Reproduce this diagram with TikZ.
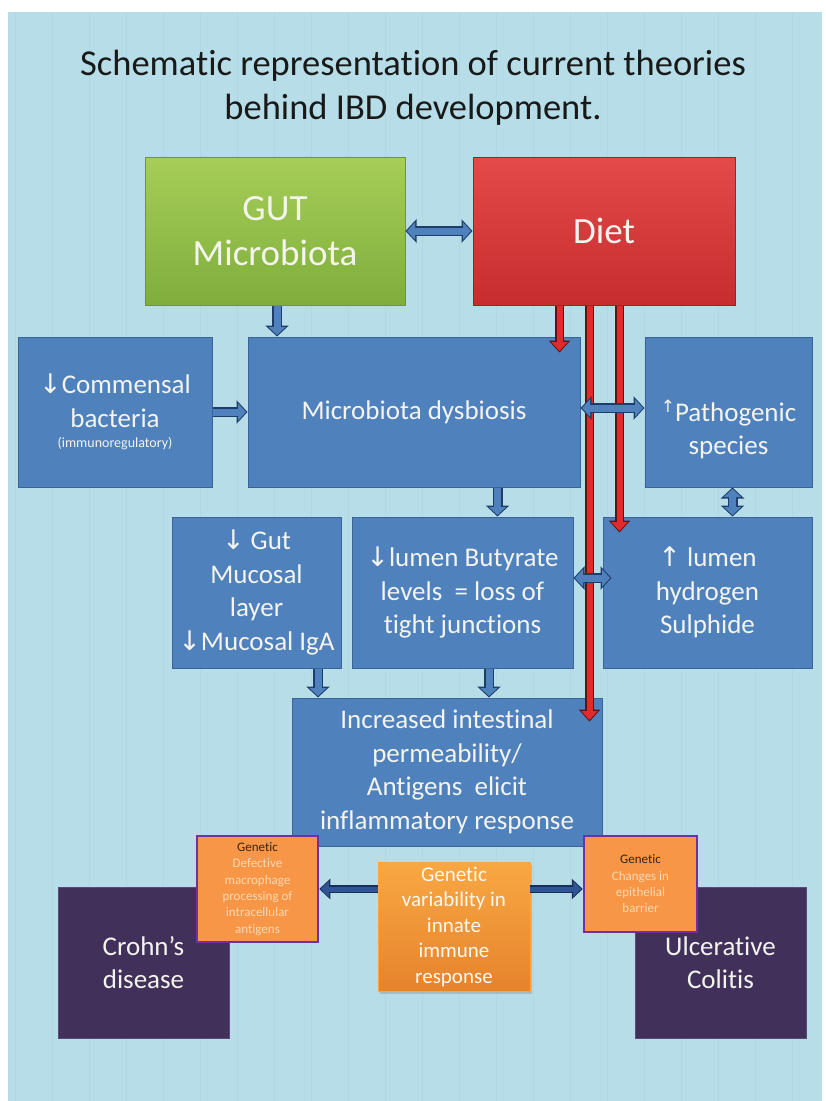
\documentclass[tikz,border=0pt]{standalone}
\usepackage{fontspec}
\setmainfont{Carlito}[Ligatures={NoCommon}]
\newfontfamily\arrowfont{DejaVu Sans}
\usetikzlibrary{arrows.meta,shadows,calc}

\definecolor{bgblue}{HTML}{B7DEE8}
\definecolor{stripe}{HTML}{AFD8E3}
\definecolor{boxblue}{HTML}{4F81BD}
\definecolor{boxline}{HTML}{3A6498}
\definecolor{boxtext}{HTML}{F4F4EE}
\definecolor{arrfill}{HTML}{4F81BD}
\definecolor{arrline}{HTML}{1F3D6B}
\definecolor{redfill}{HTML}{E02A2C}
\definecolor{redline}{HTML}{5E1214}
\definecolor{navyfill}{HTML}{2F5597}
\definecolor{navyline}{HTML}{1A2F55}
\definecolor{purplebox}{HTML}{41315A}
\definecolor{purpleline}{HTML}{5B4A7C}
\definecolor{genorange}{HTML}{F79646}
\definecolor{genborder}{HTML}{7030A0}
\definecolor{gentitle}{HTML}{3A2410}
\definecolor{genpale}{HTML}{FCD9B4}
\definecolor{greentop}{HTML}{A6CE58}
\definecolor{greenbot}{HTML}{7FAE3C}
\definecolor{greenline}{HTML}{6E9636}
\definecolor{redtop}{HTML}{E34A4A}
\definecolor{redbot}{HTML}{C52D2E}
\definecolor{redbox}{HTML}{9E2424}
\definecolor{ortop}{HTML}{F8A843}
\definecolor{orbot}{HTML}{E6832D}

\newcommand{\arrdown}{{\arrowfont ↓}}
\newcommand{\arrup}{{\arrowfont ↑}}

\begin{document}
\begin{tikzpicture}[x=1pt, y=-1pt,
  sz/.style 2 args={minimum width=#1pt, minimum height=#2pt},
  box/.style={draw=boxline, line width=1pt, fill=boxblue, text=boxtext, align=center, inner sep=0pt, font=\fontsize{27}{33.5}\selectfont},
  topbox/.style={line width=1pt, align=center, inner sep=0pt, text=boxtext, font=\fontsize{37}{45}\selectfont},
  ibd/.style={draw=purpleline, line width=1pt, fill=purplebox, text=boxtext, align=center, inner sep=0pt, font=\fontsize{27}{33}\selectfont},
  gen/.style={draw=genborder, line width=2.5pt, fill=genorange, text=genpale, align=center, inner sep=0pt, font=\fontsize{13}{16.3}\selectfont},
  barr/.style={draw=arrfill, line width=7pt, -{Triangle[length=8pt,width=17pt,sep=1.5pt]}, preaction={draw=arrline, line width=10pt, -{Triangle[length=11pt,width=23pt]}}},
  dbarr/.style={draw=arrfill, line width=7pt, {Triangle[length=8pt,width=17pt,sep=1.5pt]}-{Triangle[length=8pt,width=17pt,sep=1.5pt]}, preaction={draw=arrline, line width=10pt, {Triangle[length=11pt,width=23pt]}-{Triangle[length=11pt,width=23pt]}}},
  narr/.style={draw=navyfill, line width=5pt, -{Triangle[length=8pt,width=15pt,sep=1.5pt]}, preaction={draw=navyline, line width=8pt, -{Triangle[length=11pt,width=20pt]}}},
  rarr/.style={draw=redfill, line width=6pt, -{Triangle[length=9pt,width=16pt,sep=1.5pt]}, preaction={draw=redline, line width=9pt, -{Triangle[length=12pt,width=21pt]}}}]
  % background
  \useasboundingbox (0,0) rectangle (826,1101);
  \fill[white] (0,0) rectangle (826,1101);
  \fill[bgblue] (8,12) rectangle (822,1101);
  \foreach \x in {15,52,...,815}
    \draw[stripe, line width=1pt] (\x,12) -- (\x,1101);
  % title
  \node[align=center, text=black!90, font=\fontsize{36.5}{44}\selectfont] (title) at (413,88) {Schematic representation of current theories\\behind IBD development.};
  % nodes
  \node[topbox, draw=greenline, sz={260}{148}, top color=greentop, bottom color=greenbot] (gut) at (275,231) {GUT\\Microbiota};
  \node[topbox, draw=redbox, sz={262}{148}, top color=redtop, bottom color=redbot] (diet) at (604,231) {Diet};
  \node[box, sz={194}{150}] (comm) at (115,412) {\arrdown Commensal\\bacteria\\[-13pt]{\fontsize{14}{17}\selectfont(immunoregulatory)}};
  \node[box, sz={332}{150}] (dys) at (414,412) {Microbiota dysbiosis};
  \node[box, sz={167}{150}] (path) at (728.5,412) {\rule{0pt}{56pt}\raisebox{9pt}{\fontsize{17}{17}\selectfont\arrup}Pathogenic\\species};
  \node[box, sz={169}{151}] (muc) at (256.5,592.5) {\arrdown{} Gut\\Mucosal\\layer\\\arrdown Mucosal IgA};
  \node[box, sz={221}{151}] (but) at (462.5,592.5) {\arrdown lumen Butyrate\\levels \ = loss of\\tight junctions};
  \node[box, sz={209}{151}] (hyd) at (707.5,592.5) {\arrup{} lumen\\hydrogen\\Sulphide};
  \node[box, sz={310}{148}] (perm) at (447,772) {Increased intestinal\\permeability/\\Antigens \ elicit\\inflammatory response};
  \node[ibd, sz={171}{151}] (crohn) at (143.5,962.5) {Crohn’s\\disease};
  \node[ibd, sz={171}{151}] (uc) at (720.5,962.5) {Ulcerative\\Colitis};
  \node[gen, sz={121}{106}] (genL) at (257.5,889) {{\color{gentitle}Genetic}\\Defective\\macrophage\\processing of\\intracellular\\antigens};
  \node[gen, sz={113}{96}] (genR) at (640.5,884) {{\color{gentitle}Genetic}\\Changes in\\epithelial\\barrier};
  \node[draw=ortop, line width=0.8pt, sz={152}{129}, top color=ortop, bottom color=orbot, text=white!95!orange, align=center, inner sep=0pt, font=\fontsize{21}{25.5}\selectfont, drop shadow={opacity=0.35, shadow xshift=2pt, shadow yshift=-3pt}] (genC) at (454,926.5) {Genetic\\variability in\\innate\\immune\\response};
  % diet arrows
  \coordinate (r1) at ([xshift=87pt]diet.south west);
  \coordinate (r2) at ([xshift=117pt]diet.south west);
  \coordinate (r3) at ([xshift=147pt]diet.south west);
  \coordinate (r1end) at ([yshift=-16pt]r1 |- dys.north);
  \coordinate (r2end) at ([yshift=-24pt]r2 |- perm.north);
  \coordinate (r3end) at ([yshift=-16pt]r3 |- hyd.north);
  \draw[rarr] (r1) -- (r1end);
  \draw[rarr] (r2) -- (r2end);
  \draw[rarr] (r3) -- (r3end);
  % edges
  \draw[dbarr] (gut.east) -- (diet.west);
  \draw[barr] ([xshift=2pt]gut.south) -- ([xshift=2pt]gut.south |- dys.north);
  \draw[barr] (comm.east) -- (dys.west);
  \draw[dbarr] ([yshift=4pt]dys.east) -- ([yshift=4pt]path.west);
  \draw[barr] ([xshift=35pt]but.north |- dys.south) -- ([xshift=35pt]but.north);
  \draw[dbarr] ([xshift=4pt]path.south) -- ([xshift=4pt]path.south |- hyd.north);
  \draw[dbarr] ([yshift=14.5pt]but.east) -- ([yshift=14.5pt,xshift=9pt]hyd.west);
  \draw[barr] ([xshift=61.5pt]muc.south) -- ([xshift=61.5pt]muc.south |- perm.north);
  \draw[barr] ([xshift=26.5pt]but.south) -- ([xshift=26.5pt]but.south |- perm.north);
  \draw[narr] (genC.west |- genL.east) -- (genL.east);
  \draw[narr] (genC.east |- genL.east) -- (genL.east -| genR.west);
\end{tikzpicture}
\end{document}
